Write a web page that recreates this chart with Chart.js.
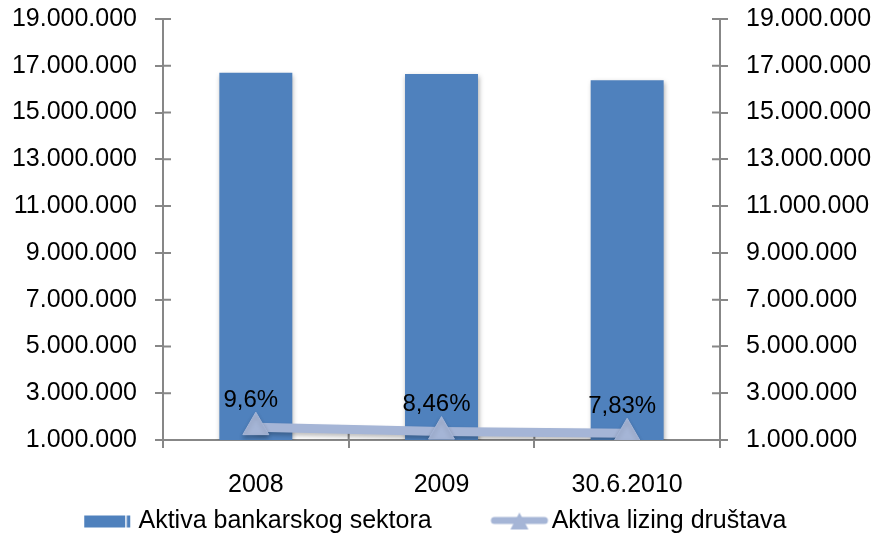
<!DOCTYPE html>
<html>
<head>
<meta charset="utf-8">
<script src="https://cdn.jsdelivr.net/npm/chart.js@4/dist/chart.umd.min.js"></script>
<style>
  html, body { margin: 0; padding: 0; background: #fff; }
  #frame { width: 875px; height: 535px; overflow: hidden; }
  #wrap { position: relative; width: 875px; height: 544px; }
</style>
</head>
<body>
<div id="frame"><div id="wrap"><canvas id="chart"></canvas></div></div>
<script>
const categories = ['2008', '2009', '30.6.2010'];
const bankAssets = [16700000, 16650000, 16380000];
const leasingAssets = [1550000, 1360000, 1290000];
const leasingShare = ['9,6%', '8,46%', '7,83%'];
const axisMin = 1000000;
const axisMax = 19000000;
const axisStep = 2000000;

const BAR = '#4F81BD';
const LINE = '#A5B5D6';
const AXIS = '#878787';
const FONT = '"Liberation Sans", Arial, sans-serif';

Chart.defaults.font.family = FONT;
Chart.defaults.color = '#000';

const dots = (v) => String(v).replace(/\B(?=(\d{3})+(?!\d))/g, '.');

// legend icons, drawn a bit wider than the legend box
function barIcon() {
  const c = document.createElement('canvas');
  c.width = 118; c.height = 30;
  const g = c.getContext('2d');
  g.fillStyle = BAR;
  g.fillRect(66, 9, 46, 12);
  g.fillStyle = '#fff';
  g.fillRect(107, 9, 1.5, 12);
  return c;
}

function lineIcon() {
  const c = document.createElement('canvas');
  c.width = 118; c.height = 30;
  const g = c.getContext('2d');
  g.strokeStyle = LINE;
  g.lineWidth = 7;
  g.lineCap = 'round';
  g.beginPath();
  g.moveTo(63, 14); g.lineTo(113, 14);
  g.stroke();
  g.fillStyle = LINE;
  g.beginPath();
  g.moveTo(88, 6); g.lineTo(97, 23); g.lineTo(79, 23);
  g.closePath();
  g.fill();
  return c;
}

const shadows = {
  id: 'shadows',
  beforeDatasetDraw(chart, args) {
    const ctx = chart.ctx;
    ctx.save();
    if (args.index === 0) {
      ctx.shadowColor = 'rgba(0,0,0,0.35)';
      ctx.shadowBlur = 5;
      ctx.shadowOffsetX = 1;
      ctx.shadowOffsetY = 2;
    } else {
      ctx.shadowColor = 'rgba(0,0,0,0.25)';
      ctx.shadowBlur = 4;
      ctx.shadowOffsetY = 3;
    }
  },
  afterDatasetDraw(chart) {
    chart.ctx.restore();
  }
};

// excel style ticks that cross the axis line
const crossTicks = {
  id: 'crossTicks',
  beforeDatasetsDraw(chart) {
    const { ctx, chartArea, scales } = chart;
    ctx.save();
    ctx.strokeStyle = AXIS;
    ctx.lineWidth = 2;
    ctx.beginPath();
    scales.y.ticks.forEach(t => {
      const y = scales.y.getPixelForValue(t.value);
      ctx.moveTo(chartArea.left, y); ctx.lineTo(chartArea.left + 8, y);
    });
    scales.y1.ticks.forEach(t => {
      const y = scales.y1.getPixelForValue(t.value);
      ctx.moveTo(chartArea.right, y); ctx.lineTo(chartArea.right - 8, y);
    });
    for (let i = 1; i < categories.length; i++) {
      const x = (scales.x.getPixelForValue(i - 1) + scales.x.getPixelForValue(i)) / 2;
      ctx.moveTo(x, chartArea.bottom); ctx.lineTo(x, chartArea.bottom - 8);
    }
    ctx.stroke();
    ctx.restore();
  }
};

const shareLabels = {
  id: 'shareLabels',
  afterDatasetsDraw(chart) {
    const ctx = chart.ctx;
    const meta = chart.getDatasetMeta(1);
    ctx.save();
    ctx.font = '24px ' + FONT;
    ctx.fillStyle = '#000';
    ctx.textAlign = 'center';
    ctx.textBaseline = 'middle';
    meta.data.forEach((pt, i) => {
      ctx.fillText(leasingShare[i], pt.x - 5, pt.y - 27);
    });
    ctx.restore();
  }
};

// legend sits a little left of centre in the original
const legendShift = {
  id: 'legendShift',
  afterLayout(chart) {
    chart.legend.right -= 60;
  }
};

const yScale = (position, width) => ({
  position,
  min: axisMin,
  max: axisMax,
  afterFit: (s) => { s.width = width; s.paddingTop = 19; s.paddingBottom = 10; },
  border: { display: true, color: AXIS, width: 2 },
  grid: { drawOnChartArea: false, tickLength: 8, color: AXIS, lineWidth: 2 },
  ticks: {
    stepSize: axisStep,
    padding: 18,
    color: '#000',
    font: { size: 25 },
    callback: (v) => dots(v)
  }
});

new Chart(document.getElementById('chart'), {
  type: 'bar',
  data: {
    labels: categories,
    datasets: [
      {
        type: 'bar',
        label: 'Aktiva bankarskog sektora',
        data: bankAssets,
        backgroundColor: BAR,
        borderWidth: 0,
        categoryPercentage: 1,
        barPercentage: 0.393,
        yAxisID: 'y',
        order: 2
      },
      {
        type: 'line',
        label: 'Aktiva lizing društava',
        data: leasingAssets,
        borderColor: LINE,
        backgroundColor: LINE,
        borderWidth: 9,
        pointStyle: 'triangle',
        pointRadius: 15,
        pointBorderWidth: 1,
        pointBackgroundColor: LINE,
        pointBorderColor: LINE,
        tension: 0,
        yAxisID: 'y1',
        order: 1
      }
    ]
  },
  options: {
    responsive: true,
    maintainAspectRatio: false,
    animation: false,
    layout: { padding: 0 },
    plugins: {
      tooltip: { enabled: false },
      legend: {
        position: 'bottom',
        labels: {
          usePointStyle: true,
          pointStyleWidth: 97.5,
          padding: 10,
          color: '#000',
          font: { size: 25 },
          generateLabels: () => [
            { text: 'Aktiva bankarskog sektora', pointStyle: barIcon(), fillStyle: BAR, strokeStyle: BAR, lineWidth: 0, hidden: false, datasetIndex: 0 },
            { text: 'Aktiva lizing društava', pointStyle: lineIcon(), fillStyle: LINE, strokeStyle: LINE, lineWidth: 0, hidden: false, datasetIndex: 1 }
          ]
        }
      }
    },
    scales: {
      x: {
        afterFit: (s) => { s.height = 59; },
        border: { display: true, color: AXIS, width: 2 },
        grid: { drawOnChartArea: false, offset: true, tickLength: 8, color: AXIS, lineWidth: 2 },
        ticks: { padding: 22, color: '#000', font: { size: 25 } }
      },
      y: yScale('left', 163),
      y1: yScale('right', 155)
    }
  },
  plugins: [shadows, crossTicks, shareLabels, legendShift]
});
</script>
</body>
</html>
